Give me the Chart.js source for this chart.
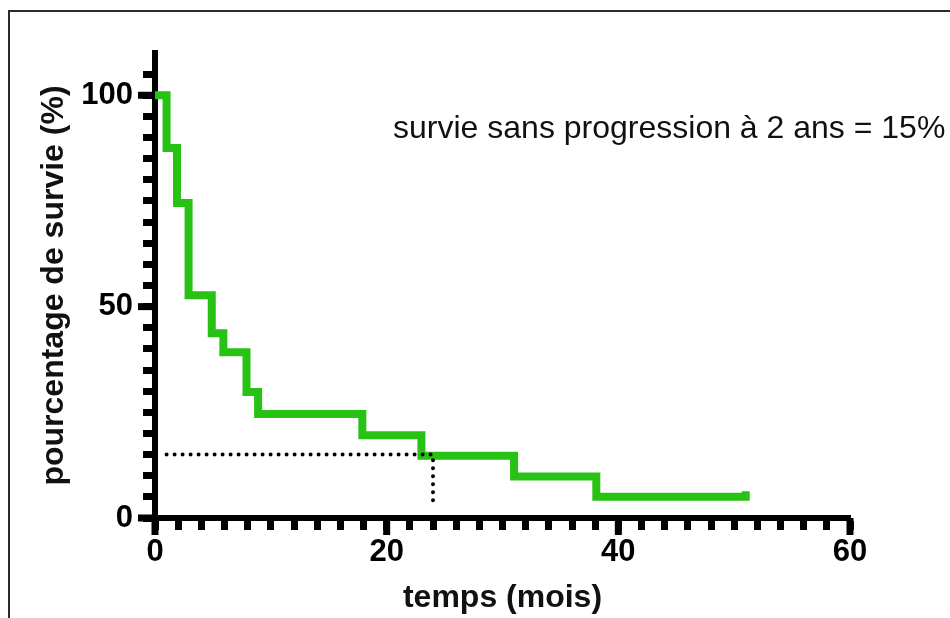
<!DOCTYPE html>
<html lang="fr">
<head>
    <meta charset="UTF-8">
    <title>Survie sans progression</title>
    <script src="https://cdn.jsdelivr.net/npm/chart.js"></script>
    <style>
        body { margin: 0; background: #fff; }
        #wrap { position: relative; width: 950px; height: 618px; overflow: hidden; }
        #frame { position: absolute; left: 8px; top: 10px; width: 1000px; height: 700px; border: 2px solid #2b2b2b; }
        #survChart { position: absolute; left: 0; top: 0; }
    </style>
</head>
<body>
    <div id="wrap">
        <div id="frame"></div>
        <canvas id="survChart" width="950" height="618"></canvas>
    </div>

    <script>
        // Kaplan-Meier steps (mois, %)
        const timeMonths = [0, 1, 1.9, 2.9, 4.9, 5.9, 7.9, 8.9, 17.9, 23, 31, 38.1, 51];
        const survivalPct = [100, 87.5, 74.5, 52.7, 43.7, 39.2, 29.8, 24.6, 19.6, 14.7, 9.8, 5, 6.3];

        // pointillés: survie à 24 mois
        const refX = [1, 24, 24];
        const refY = [15, 15, 2.4];

        const xTickLabels = [0, 20, 40, 60];
        const yTickLabels = [0, 50, 100];
        const noteText = 'survie sans progression à 2 ans = 15%';

        const tickFont = { family: 'Liberation Sans, Arial, sans-serif', size: 31, weight: 'bold' };
        const titleFont = { family: 'Liberation Sans, Arial, sans-serif', size: 32, weight: 'bold' };

        const extras = {
            id: 'extras',
            afterDraw(chart) {
                const { ctx, scales: { x, y } } = chart;
                ctx.save();
                ctx.fillStyle = '#000';
                // longer major ticks
                xTickLabels.forEach(v => {
                    const px = x.getPixelForValue(v);
                    ctx.fillRect(px - 3.5, y.bottom, 7, 17);
                });
                yTickLabels.forEach(v => {
                    const py = y.getPixelForValue(v);
                    ctx.fillRect(x.left - 17, py - 3.5, 17, 7);
                });
                // annotation
                ctx.fillStyle = '#111';
                ctx.font = '32px "Liberation Sans", Arial, sans-serif';
                ctx.textBaseline = 'alphabetic';
                ctx.textAlign = 'left';
                ctx.fillText(noteText, x.getPixelForValue(20.55), y.getPixelForValue(89.9));
                ctx.restore();
            }
        };

        new Chart(document.getElementById('survChart'), {
            type: 'line',
            data: {
                datasets: [{
                    data: refX.map((v, i) => ({ x: v, y: refY[i] })),
                    borderColor: '#000',
                    borderWidth: 4,
                    borderDash: [0, 8],
                    borderCapStyle: 'round',
                    pointRadius: 0,
                    fill: false
                }, {
                    data: timeMonths.map((v, i) => ({ x: v, y: survivalPct[i] })),
                    borderColor: '#28c214',
                    borderWidth: 8,
                    stepped: true,
                    pointRadius: 0,
                    fill: false
                }]
            },
            plugins: [extras],
            options: {
                responsive: false,
                animation: false,
                devicePixelRatio: 1,
                layout: { padding: { top: 53, right: 100, bottom: 0, left: 0 } },
                plugins: { legend: { display: false }, tooltip: { enabled: false } },
                scales: {
                    x: {
                        type: 'linear',
                        min: 0,
                        max: 60,
                        afterFit: s => { s.height = 100; },
                        ticks: {
                            stepSize: 2,
                            autoSkip: false,
                            maxRotation: 0,
                            padding: 4,
                            color: '#000',
                            font: tickFont,
                            callback: v => xTickLabels.includes(v) ? v : ''
                        },
                        grid: { drawOnChartArea: false, tickLength: 12, tickWidth: 7, tickColor: '#000' },
                        border: { color: '#000', width: 6 },
                        title: { display: true, text: 'temps (mois)', color: '#111', font: titleFont, padding: { top: 0, bottom: 1 } }
                    },
                    y: {
                        min: 0,
                        max: 110,
                        afterFit: s => { s.width = 155; },
                        ticks: {
                            stepSize: 5,
                            autoSkip: false,
                            padding: 10,
                            color: '#000',
                            font: tickFont,
                            callback: v => yTickLabels.includes(v) ? v : ''
                        },
                        grid: {
                            drawOnChartArea: false,
                            tickLength: 12,
                            tickWidth: 7,
                            tickColor: c => c.tick && c.tick.value === 110 ? 'rgba(0,0,0,0)' : '#000'
                        },
                        border: { color: '#000', width: 6 },
                        title: { display: true, text: 'pourcentage de survie (%)', color: '#111', font: titleFont, padding: { top: 35, bottom: 0 } }
                    }
                }
            }
        });
    </script>
</body>
</html>
